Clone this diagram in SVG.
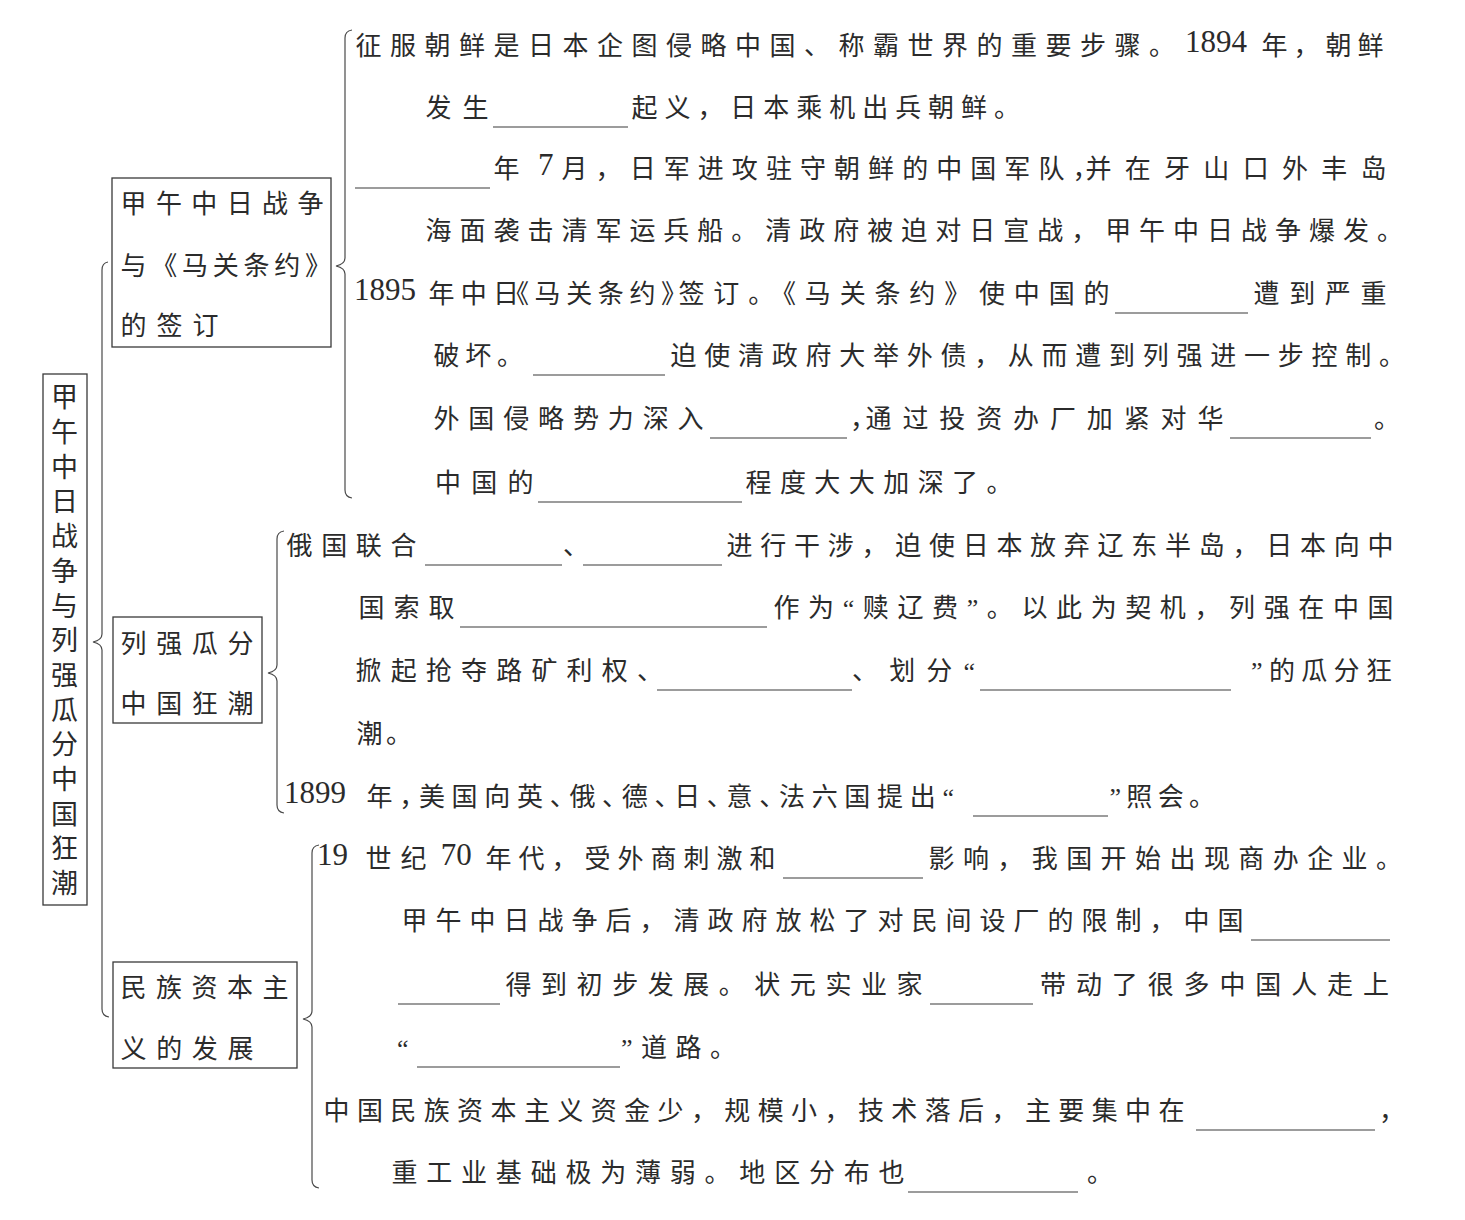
<svg xmlns="http://www.w3.org/2000/svg" width="1465" height="1220" viewBox="0 0 1465 1220">
<style>
.t{font-family:"Liberation Serif","Noto Sans CJK SC",serif;font-size:26px;fill:#2b2b2b}
.r{font-size:27px}
.d{font-size:31px}
.h{font-feature-settings:"halt" 1}
.box{fill:none;stroke:#3a3a3a;stroke-width:1.3}
.br{fill:none;stroke:#4a4a4a;stroke-width:1.2}
.bl{stroke:#3a3a3a;stroke-width:1.2}
</style>
<rect width="1465" height="1220" fill="#ffffff"/>

<g id="connectors">
<path class="br" d="M108,262 Q102,263 102,270 L102,634 Q102,640 93,642 Q102,644 102,650 L102,1009 Q102,1016 109,1017"/>
<path class="br" d="M352,30 Q345,31 345,38 L345,258 Q345,264 336,266 Q345,268 345,274 L345,490 Q345,497 352,498"/>
<path class="br" d="M284,531 Q277,532 277,539 L277,665 Q277,671 268,673 Q277,675 277,681 L277,805 Q277,812 284,813"/>
<path class="br" d="M319,845 Q312,846 312,853 L312,1011 Q312,1017 303,1019 Q312,1021 312,1027 L312,1180 Q312,1187 319,1188"/>
</g>

<g id="root">
<rect class="box" x="43" y="374" width="44" height="531"/>
<text class="t r" x="51 51 51 51 51 51 51 51 51 51 51 51 51 51 51" y="407 442 477 511 546 581 616 650 685 720 754 789 824 858 893">甲午中日战争与列强瓜分中国狂潮</text>
</g>

<g id="node-war">
<rect class="box" x="112" y="178" width="219" height="169"/>
<text class="t" y="213"><tspan x="120.5" textLength="203">甲午中日战争</tspan></text>
<text class="t" y="275"><tspan x="120.5" textLength="210.5">与《马关条约》</tspan></text>
<text class="t" y="335"><tspan x="120.5" textLength="98">的签订</tspan></text>
</g>

<g id="node-powers">
<rect class="box" x="113" y="617" width="149" height="106"/>
<text class="t" y="653"><tspan x="120.5" textLength="133">列强瓜分</tspan></text>
<text class="t" y="713"><tspan x="120.5" textLength="133">中国狂潮</tspan></text>
</g>

<g id="node-capital">
<rect class="box" x="113" y="962" width="184" height="106"/>
<text class="t" y="997"><tspan x="120.5" textLength="168">民族资本主</tspan></text>
<text class="t" y="1058"><tspan x="120.5" textLength="133">义的发展</tspan></text>
</g>

<g id="content-war">
<text class="t" y="55"><tspan x="355.5" textLength="819.5">征服朝鲜是日本企图侵略中国、称霸世界的重要步骤。</tspan><tspan class="d" x="1185" y="52">1894 </tspan><tspan x="1261.5" y="55" textLength="122">年，朝鲜</tspan></text>
<text class="t" y="117"><tspan x="425.5" textLength="63">发生</tspan><tspan x="631.5" textLength="388.5">起义，日本乘机出兵朝鲜。</tspan></text>
<line class="bl" x1="493" y1="127" x2="628" y2="127"/>
<line class="bl" x1="355" y1="188" x2="490" y2="188"/>
<text class="t" y="178"><tspan x="493.5">年 </tspan><tspan class="d" x="538" y="175">7 </tspan><tspan x="561.5" y="178" textLength="537">月，日军进攻驻守朝鲜的中国军队，</tspan><tspan x="1085.5" textLength="301">并在牙山口外丰岛</tspan></text>
<text class="t" y="240"><tspan x="425.5" textLength="977.5">海面袭击清军运兵船。清政府被迫对日宣战，甲午中日战争爆发。</tspan></text>
<text class="t" y="303"><tspan class="d" x="354" y="300">1895 </tspan><tspan x="428.5" y="303" textLength="90.5">年中日</tspan><tspan class="h" x="516" textLength="158">《马关条约》</tspan><tspan x="678.5" textLength="431">签订。《马关条约》使中国的</tspan><tspan x="1253.5" textLength="133">遭到严重</tspan></text>
<line class="bl" x1="1115" y1="313" x2="1248" y2="313"/>
<text class="t" y="365"><tspan x="433.5" textLength="89.5">破坏。</tspan><tspan x="670.5" textLength="734.5">迫使清政府大举外债，从而遭到列强进一步控制。</tspan></text>
<line class="bl" x1="533" y1="375" x2="665" y2="375"/>
<text class="t" y="428"><tspan x="433.5" textLength="270">外国侵略势力深入</tspan><tspan class="h" x="850">，</tspan><tspan x="865.5" textLength="358">通过投资办厂加紧对华</tspan><tspan x="1374">。</tspan></text>
<line class="bl" x1="710" y1="438" x2="847" y2="438"/>
<line class="bl" x1="1230" y1="438" x2="1371" y2="438"/>
<text class="t" y="492"><tspan x="435" textLength="98.5">中国的</tspan><tspan x="745.5" textLength="267">程度大大加深了。</tspan></text>
<line class="bl" x1="538" y1="502" x2="742" y2="502"/>
</g>

<g id="content-powers">
<text class="t" y="555"><tspan x="286.5" textLength="130">俄国联合</tspan><tspan x="563">、</tspan><tspan x="726.5" textLength="667">进行干涉，迫使日本放弃辽东半岛，日本向中</tspan></text>
<line class="bl" x1="425" y1="565" x2="562" y2="565"/>
<line class="bl" x1="583" y1="565" x2="722" y2="565"/>
<text class="t" y="617"><tspan x="358.5" textLength="96">国索取</tspan><tspan x="773.5" textLength="620">作为“赎辽费”。以此为契机，列强在中国</tspan></text>
<line class="bl" x1="460" y1="627" x2="767" y2="627"/>
<text class="t" y="680"><tspan x="355.5" textLength="307.5">掀起抢夺路矿利权、</tspan><tspan x="852" textLength="123">、划分“</tspan><tspan x="1251" textLength="141">”的瓜分狂</tspan></text>
<line class="bl" x1="657" y1="690" x2="852" y2="690"/>
<line class="bl" x1="980" y1="690" x2="1231" y2="690"/>
<text class="t" y="743"><tspan x="356.5" textLength="55.5">潮。</tspan></text>
<text class="t" y="806"><tspan class="d" x="284" y="803">1899 </tspan><tspan class="h" x="366.5" y="806" textLength="587.5">年，美国向英、俄、德、日、意、法六国提出“</tspan><tspan x="1109.5" textLength="105.5">”照会。</tspan></text>
<line class="bl" x1="973" y1="816" x2="1108" y2="816"/>
</g>

<g id="content-capital">
<text class="t" y="868"><tspan class="d" x="317" y="865">19 </tspan><tspan x="365.5" y="868" textLength="61">世纪</tspan><tspan class="d" x="433" y="865"> 70 </tspan><tspan x="485.5" y="868" textLength="290">年代，受外商刺激和</tspan><tspan x="928.5" textLength="473.5">影响，我国开始出现商办企业。</tspan></text>
<line class="bl" x1="783" y1="878" x2="923" y2="878"/>
<text class="t" y="930"><tspan x="401.5" textLength="842">甲午中日战争后，清政府放松了对民间设厂的限制，中国</tspan></text>
<line class="bl" x1="1251" y1="940" x2="1390" y2="940"/>
<text class="t" y="994"><tspan x="505.5" textLength="417">得到初步发展。状元实业家</tspan><tspan x="1040" textLength="349">带动了很多中国人走上</tspan></text>
<line class="bl" x1="398" y1="1004" x2="500" y2="1004"/>
<line class="bl" x1="930" y1="1004" x2="1033" y2="1004"/>
<text class="t" y="1057"><tspan x="397">“</tspan><tspan x="621" textLength="115">”道路。</tspan></text>
<line class="bl" x1="417" y1="1067" x2="620" y2="1067"/>
<text class="t" y="1120"><tspan x="323.5" textLength="861">中国民族资本主义资金少，规模小，技术落后，主要集中在</tspan><tspan x="1379">，</tspan></text>
<line class="bl" x1="1196" y1="1130" x2="1375" y2="1130"/>
<text class="t" y="1182"><tspan x="391.5" textLength="513">重工业基础极为薄弱。地区分布也</tspan><tspan x="1087">。</tspan></text>
<line class="bl" x1="908" y1="1192" x2="1078" y2="1192"/>
</g>
</svg>
